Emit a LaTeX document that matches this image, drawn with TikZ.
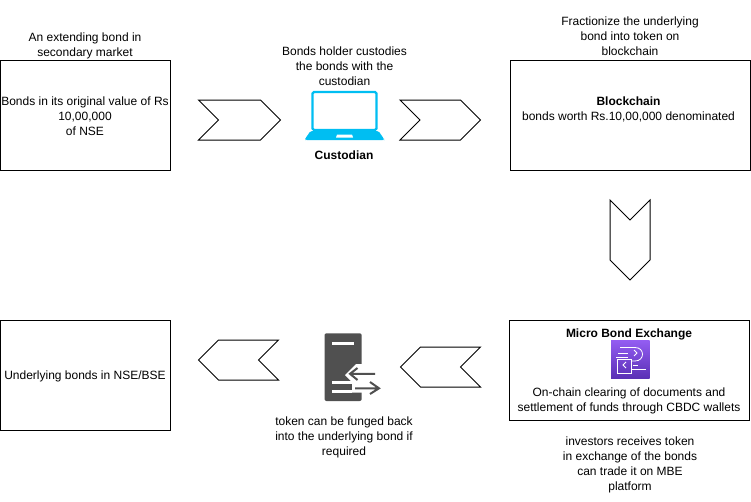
\documentclass[tikz,border=0pt]{standalone}
\usepackage{fontspec}
\setmainfont{Liberation Sans}
\definecolor{cyanicon}{HTML}{00BEF2}
\definecolor{srv}{HTML}{505050}
\definecolor{purpT}{HTML}{945DF2}
\definecolor{purpB}{HTML}{5A30B5}
\tikzset{
 x=1pt,y=-1pt,
 boxline/.style={draw=black,line width=1pt},
 lab/.style={align=center,font=\fontsize{12}{15}\selectfont,inner sep=0pt},
 chevron/.style={draw=black,line width=1pt,fill=white,line join=miter}
}
\newcommand{\chevR}[3]{\draw[chevron] (#1,#2) -- (#3,#2) -- ++(20,20) -- ++(-20,20) -- (#1,#2+40) -- ++(20,-20) -- cycle;}
\newcommand{\chevL}[2]{\draw[chevron] (#1,#2) -- ++(-60,0) -- ++(-20,20) -- ++(20,20) -- ++(60,0) -- ++(-20,-20) -- cycle;}
\begin{document}
\begin{tikzpicture}
\useasboundingbox (0,0) rectangle (751,501);
\fill[white] (0,0) rectangle (751,501);
% boxes
\draw[boxline] (0.5,60.5) rectangle (170.5,170.5);
\draw[boxline] (510.5,60.5) rectangle (750.5,170.5);
\draw[boxline] (509.5,320.5) rectangle (749.5,420.5);
\draw[boxline] (0.5,320.5) rectangle (170.5,430.5);
\node[lab] (a) at (85,116) {Bonds in its original value of Rs\\10,00,000\\of NSE};
\node[lab] (b) at (628.5,109) {\textbf{Blockchain}\\bonds worth Rs.10,00,000 denominated};
\node[lab] (d) at (85,376.5) {Underlying bonds in NSE/BSE};
% top labels
\node[lab] (l1) at (85,46) {An extending bond in\\secondary market};
\node[lab] (l2) at (344.5,66) {Bonds holder custodies\\the bonds with the\\custodian};
\node[lab] (l3) at (630,36) {Fractionize the underlying\\bond into token on\\blockchain};
% chevrons
\chevR{198.5}{100}{260.5}
\chevR{400}{100}{460.5}
\draw[chevron] (610,200) -- (630,220) -- (650,200) -- (650,260) -- (630,280) -- (610,260) -- cycle;
\chevL{278.5}{340}
\chevL{480.5}{347}
% laptop
\draw[cyanicon,line width=2.2pt,rounded corners=1.5pt,fill=white] (312.5,92) rectangle (376.5,130);
\fill[cyanicon,rounded corners=1.5pt] (310.5,131) -- (378.5,131) -- (384,139) -- (384,140) -- (305,140) -- (305,139) -- cycle;
\fill[white] (337,134.5) -- (352,134.5) -- (353,137.5) -- (336,137.5) -- cycle;
\node[lab,font=\fontsize{12}{15}\selectfont\bfseries] (cust) at (344,155) {Custodian};
% server
\fill[srv,rounded corners=2pt] (324.5,333.3) rectangle (361.7,401);
\fill[white] (331.7,342) rectangle (354.3,345);
\fill[white] (331.7,381) rectangle (351.7,383.5);
\fill[white] (331.7,390) rectangle (351.7,392.7);
\fill[white] (345,375) -- (356,364) -- (362,364) -- (362,392.7) -- (352,392.7) -- (352,381) -- (351,381) -- cycle;
\draw[srv,line width=2pt] (375,373.8) -- (350,373.8) (357.5,368) -- (350,373.8) -- (357.5,380);
\draw[srv,line width=2pt] (355,388.3) -- (379,388.3) (370,382) -- (379,388.3) -- (370,394);
\node[lab] (l5) at (344,437) {token can be funged back\\into the underlying bond if\\required};
% MBE
\node[lab,font=\fontsize{12}{15}\selectfont\bfseries] (mbe) at (629,334.5) {Micro Bond Exchange};
\shade[top color=purpT,bottom color=purpB] (611,340) rectangle (649.5,378.5);
\begin{scope}[white,line width=.8pt]
\draw (618,353) -- (628,353) (616,357.7) -- (628,357.7);
\draw (620,347.5) -- (635,347.5) .. controls (645,347.5) and (645,361) .. (635,361) -- (632,361);
\draw (634,350) -- (637,353) -- (634,356);
\draw (617,359) rectangle (631,373);
\draw (626,362) -- (623,365) -- (626,368);
\draw (633,365.7) -- (638,365.7) (632,369) -- (645.7,369);
\end{scope}
\node[lab] (l6) at (629,400.5) {On-chain clearing of documents and\\settlement of funds through CBDC wallets};
\node[lab] (l7) at (630,465) {investors receives token\\in exchange of the bonds\\can trade it on MBE\\platform};
\end{tikzpicture}
\end{document}
